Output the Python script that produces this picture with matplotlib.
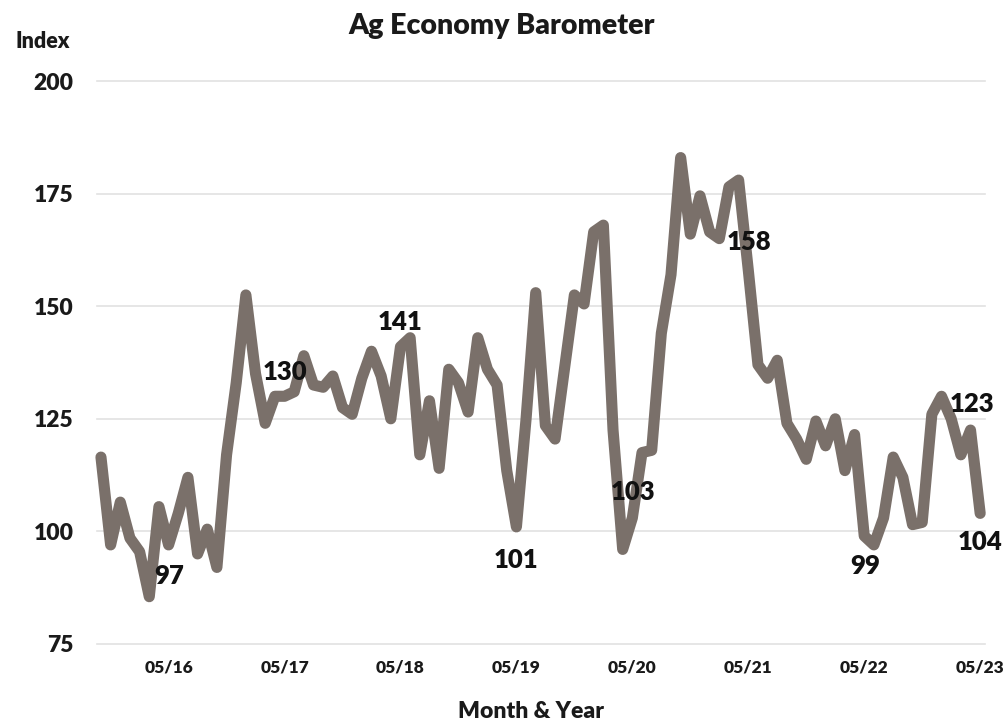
import matplotlib
matplotlib.use("Agg")
import matplotlib.pyplot as plt

plt.rcParams['font.family'] = ['Lato', 'DejaVu Sans']

index_values = [116.5, 97, 106.5, 98.5, 95.5, 85.5, 105.5, 97, 104, 112, 95, 100.5, 92, 117, 133, 152.5,
                135, 124, 130, 130, 131, 139, 132.5, 132, 134.5, 127.5, 126, 134, 140, 134.5, 125, 141,
                143, 117, 129, 114, 136, 133, 126.5, 143, 136, 132.5, 113.5, 101, 125, 153, 123.5, 120.5,
                136.5, 152.5, 150.5, 166.5, 168, 122.5, 96, 103, 117.5, 118, 144, 157, 183, 166, 174.5,
                166.5, 165, 176.5, 178, 158, 137, 134, 138, 124, 120.5, 116, 124.5, 119, 125, 113.5,
                121.5, 99, 97, 103, 116.5, 112, 101.5, 102, 126, 130, 125, 117, 122.5, 104]
x_positions = list(range(len(index_values)))
tick_positions = [7, 19, 31, 43, 55, 67, 79, 91]
tick_labels = ['05/16', '05/17', '05/18', '05/19', '05/20', '05/21', '05/22', '05/23']
y_ticks = [75, 100, 125, 150, 175, 200]
label_texts = ['97', '130', '141', '101', '103', '158', '99', '123', '104']
label_x = [7.05, 19.05, 31.0, 43.0, 55.1, 67.05, 79.1, 90.2, 91.0]
label_y = [90.2, 135.4, 146.6, 93.6, 108.7, 164.3, 92.4, 128.3, 97.6]

W, H = 1005, 723
fig = plt.figure(figsize=(W / 100, H / 100), dpi=100, facecolor='white')
ax = fig.add_axes([97 / W, (H - 644) / H, (985 - 97) / W, 563 / H])
ax.set_xlim(-0.41, 91.5)
ax.set_ylim(75, 200)
for s in ax.spines.values():
    s.set_visible(False)
ax.set_yticks(y_ticks)
ax.set_xticks(tick_positions)
ax.set_xticklabels(tick_labels, fontsize=12.5, fontweight='heavy', color='#1a1a1a')
ax.set_yticklabels([str(v) for v in y_ticks], fontsize=16.5, fontweight='heavy', color='#1a1a1a')
ax.tick_params(length=0)
ax.tick_params(axis='x', pad=11)
ax.tick_params(axis='y', pad=17)
for v in y_ticks:
    ax.axhline(v, color='#e2e2e2', lw=1.2, zorder=1, clip_on=False)
ax.plot(x_positions, index_values, color='#7a706a', lw=8, solid_joinstyle='round',
        solid_capstyle='round', zorder=3, clip_on=False)
for px, py, text in zip(label_x, label_y, label_texts):
    ax.text(px, py, text, fontsize=18.5, fontweight='heavy', color='#111111', ha='center', va='center',
            zorder=4, clip_on=False)
fig.text(502 / W, 1 - 26 / H, 'Ag Economy Barometer', fontsize=20.5, fontweight='heavy', color='#1a1a1a',
         ha='center', va='center')
fig.text(43 / W, 1 - 42 / H, 'Index', fontsize=15.5, fontweight='heavy', color='#1a1a1a', ha='center', va='center')
fig.text(531 / W, 1 - 711 / H, 'Month & Year', fontsize=16.5, fontweight='heavy', color='#1a1a1a',
         ha='center', va='center')
fig.savefig('out.png', dpi=100, facecolor='white')
